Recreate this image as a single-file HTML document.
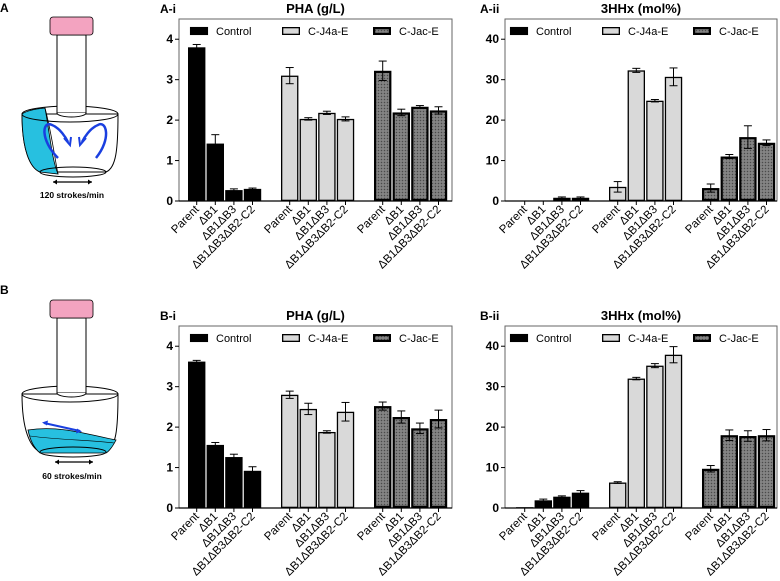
<!DOCTYPE html>
<html><head><meta charset="utf-8">
<style>
html,body{margin:0;padding:0;background:#fff;}
svg{display:block;font-family:"Liberation Sans",Arial,sans-serif;}
</style></head>
<body>
<svg id="fig" width="780" height="581" viewBox="0 0 780 581">
<defs>
<pattern id="dots" width="3" height="3" patternUnits="userSpaceOnUse">
<rect width="3" height="3" fill="#7a7a7a"/>
<rect x="0" y="0" width="1" height="1" fill="#4a4a4a"/>
<rect x="1.5" y="1.5" width="1" height="1" fill="#a0a0a0"/>
</pattern>
</defs>
<g>
<text x="0" y="12" font-size="12" font-weight="bold">A</text>
<path d="M22,114 C22,150 30,168 40,172 L106,172 C116,168 118,150 118,114 Z" fill="#fff" stroke="#000" stroke-width="1"/>
<path d="M22,114 C22,150 30,168 40,172 L58,174 C52,160 50,135 45,108 C35,109 26,111 22,114 Z" fill="#27c0e0" stroke="#000" stroke-width="0.8"/>
<path d="M45,108 C52,135 55,160 58,174" fill="none" stroke="#000" stroke-width="0.8"/>
<ellipse cx="70" cy="114" rx="48" ry="8" fill="none" stroke="#000" stroke-width="1"/>
<ellipse cx="73" cy="172" rx="33" ry="5" fill="none" stroke="#000" stroke-width="1"/>
<rect x="57" y="35" width="29" height="78" fill="#fff" stroke="#000" stroke-width="1"/>
<path d="M57,113 A14.5,4 0 0 0 86,113" fill="#fff" stroke="#000"/>
<rect x="50" y="17" width="43" height="18" rx="3" fill="#f3a3c0" stroke="#000" stroke-width="0.8"/>
<path d="M58,158 C40,140 42,120 52,125 C60,128 66,138 68,142" fill="none" stroke="#1a3fe0" stroke-width="2.5"/>
<path d="M64,138 L70,145 L71,137" fill="none" stroke="#1a3fe0" stroke-width="2"/>
<path d="M96,158 C112,138 106,120 98,125 C90,128 84,138 82,142" fill="none" stroke="#1a3fe0" stroke-width="2.5"/>
<path d="M86,138 L80,145 L79,137" fill="none" stroke="#1a3fe0" stroke-width="2"/>
<line x1="53" y1="182" x2="92" y2="182" stroke="#000" stroke-width="1.2"/>
<path d="M53,182 l4,-2.5 v5z M92,182 l-4,-2.5 v5z" fill="#000"/>
<text x="72" y="198" font-size="8.5" font-weight="bold" text-anchor="middle">120 strokes/min</text>
</g>
<g>
<text x="0" y="294" font-size="12" font-weight="bold">B</text>
<path d="M22,394 C22,430 30,447 40,452 L106,452 C116,447 118,430 118,394 Z" fill="#fff" stroke="#000" stroke-width="1"/>
<path d="M28,430 C60,425 90,435 116,440 C112,448 108,452 106,453 L40,453 C34,448 30,440 28,430 Z" fill="#27c0e0" stroke="#000" stroke-width="0.8"/>
<path d="M30,436 C60,440 90,440 114,443" fill="none" stroke="#000" stroke-width="0.6"/>
<ellipse cx="70" cy="394" rx="48" ry="8" fill="none" stroke="#000" stroke-width="1"/>
<ellipse cx="73" cy="452" rx="33" ry="5" fill="none" stroke="#000" stroke-width="1"/>
<rect x="57" y="318" width="29" height="75" fill="#fff" stroke="#000" stroke-width="1"/>
<path d="M57,393 A14.5,4 0 0 0 86,393" fill="#fff" stroke="#000"/>
<rect x="50" y="300" width="43" height="18" rx="3" fill="#f3a3c0" stroke="#000" stroke-width="0.8"/>
<line x1="44" y1="423" x2="80" y2="431" stroke="#1a3fe0" stroke-width="2"/>
<path d="M42,422.5 l6,-2 l-1,5z M82,431.5 l-6,2 l1,-5z" fill="#1a3fe0"/>
<line x1="55" y1="462" x2="93" y2="462" stroke="#000" stroke-width="1.2"/>
<path d="M55,462 l4,-2.5 v5z M93,462 l-4,-2.5 v5z" fill="#000"/>
<text x="72" y="479" font-size="8.5" font-weight="bold" text-anchor="middle">60 strokes/min</text>
</g>
<g id="charts"></g>
</svg>
<script>
const categories = ["Parent","\u0394B1","\u0394B1\u0394B3","\u0394B1\u0394B3\u0394B2-C2"];
const seriesNames = ["Control","C-J4a-E","C-Jac-E"];
const ticksPHA = [0,1,2,3,4];
const ticksHHx = [0,10,20,30,40];

const aiControl = [3.8,1.42,0.27,0.30];
const aiControlErr = [0.07,0.22,0.03,0.02];
const aiJ4a = [3.1,2.03,2.18,2.03];
const aiJ4aErr = [0.2,0.03,0.04,0.05];
const aiJac = [3.22,2.19,2.33,2.24];
const aiJacErr = [0.24,0.08,0.03,0.09];

const aiiControl = [0,0.1,0.8,0.8];
const aiiControlErr = [0,0,0.2,0.2];
const aiiJ4a = [3.5,32.3,24.8,30.7];
const aiiJ4aErr = [1.3,0.5,0.3,2.2];
const aiiJac = [3.2,11,15.8,14.4];
const aiiJacErr = [1.0,0.5,2.8,0.7];

const biControl = [3.62,1.56,1.26,0.92];
const biControlErr = [0.03,0.06,0.07,0.1];
const biJ4a = [2.8,2.45,1.88,2.38];
const biJ4aErr = [0.09,0.14,0.03,0.23];
const biJac = [2.52,2.25,1.97,2.2];
const biJacErr = [0.1,0.15,0.13,0.22];

const biiControl = [0.2,1.9,2.8,3.8];
const biiControlErr = [0,0.3,0.2,0.5];
const biiJ4a = [6.3,32,35.2,37.9];
const biiJ4aErr = [0.2,0.3,0.5,2.0];
const biiJac = [9.7,18,17.8,18];
const biiJacErr = [0.8,1.3,1.3,1.4];

const NS="http://www.w3.org/2000/svg";
const root=document.getElementById('charts');
function mk(tag,attrs,parent){const e=document.createElementNS(NS,tag);for(const k in attrs)e.setAttribute(k,attrs[k]);(parent||root).appendChild(e);return e;}

function drawChart(cfg){
  const g=mk('g',{});
  
  
  const x0=cfg.left, x1=cfg.right, y0=cfg.base, top=y0-182;
  const yScale=v=>y0-v/cfg.max*(y0-top);
  const step=18.6, bw=17.4;
  const xSlot=(gi,ci)=>x0+cfg.pad+(gi*5+ci)*step;
  const fr=mk('rect',{x:x0,y:top,width:x1-x0,height:y0-top,fill:'none',stroke:'#666','stroke-width':1},g);
  
  
  const pl=mk('text',{x:cfg.labelX,y:top-6,'font-size':12,'font-weight':'bold'},g);pl.textContent=cfg.label;
  
  
  const tt=mk('text',{x:(x0+x1)/2,y:top-6,'font-size':13,'font-weight':'bold','text-anchor':'middle'},g);tt.textContent=cfg.title;
  
  
  cfg.ticks.forEach(t=>{
    const y=yScale(t);
    mk('line',{x1:x0-4,x2:x0,y1:y,y2:y,stroke:'#000','stroke-width':1},g);
    const tx=mk('text',{x:x0-6,y:y+4,'font-size':12,'font-weight':'bold','text-anchor':'end'},g);tx.textContent=t;
    
    
  });
  const fills=['#000','#d9d9d9','url(#dots)'];
  const sws=[0,1.3,2.2];
  cfg.series.forEach((vals,gi)=>{
    vals.forEach((v,ci)=>{
      const x=xSlot(gi,ci), y=yScale(v), h=y0-y;
      const sw=sws[gi];
      if(h>0){
        const r=mk('rect',{x:x+sw/2,y:y+sw/2,width:bw-sw,height:Math.max(h-sw,0.5),fill:fills[gi],stroke:'#000','stroke-width':sw},g);
        
        
      }
      const e=cfg.errs[gi][ci];
      if(e>0){
        const cx=x+bw/2;
        mk('line',{x1:cx,x2:cx,y1:yScale(v-e),y2:yScale(v+e),stroke:'#000','stroke-width':1},g);
        mk('line',{x1:cx-4,x2:cx+4,y1:yScale(v+e),y2:yScale(v+e),stroke:'#000','stroke-width':1},g);
        mk('line',{x1:cx-4,x2:cx+4,y1:yScale(v-e),y2:yScale(v-e),stroke:'#000','stroke-width':1},g);
      }
      mk('line',{x1:x+bw/2,x2:x+bw/2,y1:y0,y2:y0+4,stroke:'#000','stroke-width':1},g);
      const lx=x+bw/2+3, ly=y0+9;
      const lt=mk('text',{x:lx,y:ly,'font-size':11.5,'text-anchor':'end',transform:'rotate(-45 '+lx+' '+ly+')'},g);
      lt.textContent=categories[ci];
      
      
    });
  });
  mk('line',{x1:x0,x2:x1,y1:y0,y2:y0,stroke:'#000','stroke-width':1.2},g);
  const ly=top+12;
  seriesNames.forEach((n,i)=>{
    const sx=cfg.legX[i];
    const sw=sws[i];
    const r=mk('rect',{x:sx+sw/2,y:ly-4+sw/2,width:18-sw,height:8-sw,fill:fills[i],stroke:'#000','stroke-width':Math.max(sw,0.1)},g);
    
    
    const t=mk('text',{x:sx+26,y:ly+4,'font-size':11},g);t.textContent=n;
    
    
  });
}

drawChart({name:'chart-a-i',label:'A-i',labelX:160,title:'PHA (g/L)',left:179,right:452,base:201,max:4.5,pad:9,ticks:ticksPHA,
  series:[aiControl,aiJ4a,aiJac],errs:[aiControlErr,aiJ4aErr,aiJacErr],legX:[190,282,373]});
drawChart({name:'chart-a-ii',label:'A-ii',labelX:480,title:'3HHx (mol%)',left:505,right:777,base:201,max:45,pad:11,ticks:ticksHHx,
  series:[aiiControl,aiiJ4a,aiiJac],errs:[aiiControlErr,aiiJ4aErr,aiiJacErr],legX:[510,602,693]});
drawChart({name:'chart-b-i',label:'B-i',labelX:160,title:'PHA (g/L)',left:179,right:452,base:508,max:4.5,pad:9,ticks:ticksPHA,
  series:[biControl,biJ4a,biJac],errs:[biControlErr,biJ4aErr,biJacErr],legX:[190,282,373]});
drawChart({name:'chart-b-ii',label:'B-ii',labelX:480,title:'3HHx (mol%)',left:505,right:777,base:508,max:45,pad:11,ticks:ticksHHx,
  series:[biiControl,biiJ4a,biiJac],errs:[biiControlErr,biiJ4aErr,biiJacErr],legX:[510,602,693]});
</script>
</body></html>
